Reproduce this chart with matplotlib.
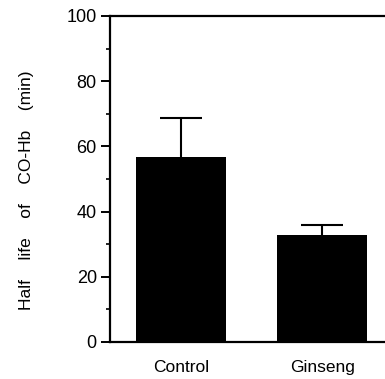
import matplotlib
matplotlib.use("Agg")
import matplotlib.pyplot as plt
from matplotlib.ticker import MultipleLocator

categories = ["Control", "Ginseng"]
means = [56.8, 32.8]
sem_upper = [12.0, 3.0]
yticks = [0, 20, 40, 60, 80, 100]

plt.rcParams['font.family'] = ['Liberation Sans', 'DejaVu Sans']

fig = plt.figure(figsize=(3.85, 3.79), dpi=100)
ax = fig.add_axes([110/385, 37/379, 1 - 110/385, 326/379])

x = [0, 1]
ax.bar(x, means, width=0.64, color='black', zorder=2)
eb = ax.errorbar(x, means, yerr=[[0, 0], sem_upper], fmt='none', ecolor='black',
                 elinewidth=1.5, capsize=15, capthick=1.5, zorder=3)
for cl in eb[1]:
    if list(cl.get_ydata()) == list(means):
        cl.set_visible(False)

ax.set_xlim(-0.502, 1.444)
ax.set_ylim(0, 100)
ax.set_yticks(yticks)
ax.yaxis.set_minor_locator(MultipleLocator(10))
ax.set_xticks(x)
ax.set_xticklabels(categories, fontsize=12.5)
ax.tick_params(axis='x', length=0, pad=13)
ax.tick_params(axis='y', which='major', length=6.5, width=1.4, labelsize=13, pad=3, direction='out')
ax.tick_params(axis='y', which='minor', length=3, width=1.2, direction='out')

for s in ['left', 'bottom', 'top']:
    ax.spines[s].set_linewidth(1.6)
ax.spines['right'].set_visible(False)

ax.set_ylabel("Half    life    of    CO-Hb    (min)", fontsize=12.5)
ax.yaxis.set_label_coords(-0.276, 0.466)

fig.savefig("out.png", dpi=100)
